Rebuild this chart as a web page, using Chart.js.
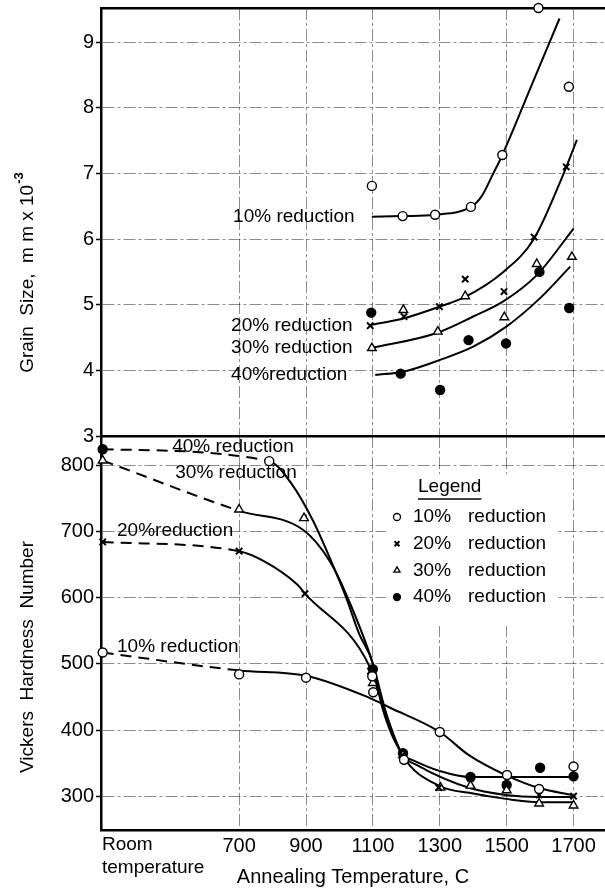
<!DOCTYPE html>
<html>
<head>
<meta charset="utf-8">
<script src="https://cdn.jsdelivr.net/npm/chart.js@4.4.1/dist/chart.umd.min.js"></script>
<style>
  html, body { margin: 0; padding: 0; background: #fff; }
  #wrap { position: relative; width: 605px; height: 895px; }
  #top { position: absolute; left: 0; top: 0; }
  #bottom { position: absolute; left: 0; top: 436px; }
</style>
</head>
<body>
<div id="wrap">
  <canvas id="top" width="605" height="445"></canvas>
  <canvas id="bottom" width="605" height="459"></canvas>
</div>
<script>
// annealing temperature axis (C) - room temperature sits at the broken left end
const ROOM_T = 292;
const X_MIN = 287, X_MAX = 1794;
const X_TICKS = [700, 900, 1100, 1300, 1500, 1700];

// upper panel: grain size, mm x 10^-3
const G_MIN = 3, G_MAX = 9.52;
const G_TICKS = [3, 4, 5, 6, 7, 8, 9];

const g10T = [1097, 1189, 1286, 1393, 1487, 1595, 1686];
const g10 = [6.81, 6.35, 6.37, 6.49, 7.28, 9.52, 8.32];
const g20T = [1092, 1193, 1299, 1376, 1492, 1582, 1678];
const g20 = [4.68, 4.82, 4.97, 5.39, 5.20, 6.03, 7.10];
const g30T = [1097, 1191, 1294, 1376, 1493, 1590, 1695];
const g30 = [4.34, 4.92, 4.59, 5.13, 4.81, 5.62, 5.73];
const g40T = [1095, 1183, 1301, 1386, 1498, 1598, 1687];
const g40 = [4.88, 3.95, 3.70, 4.46, 4.41, 5.50, 4.95];

// faired curves through the grain size points
const g10FitT = [1097, 1190, 1285, 1393, 1425, 1460, 1487, 1575, 1658];
const g10Fit = [6.34, 6.35, 6.37, 6.49, 6.65, 7.00, 7.28, 8.35, 9.36];
const g20FitT = [1092, 1191, 1299, 1376, 1490, 1580, 1660, 1710];
const g20Fit = [4.69, 4.79, 4.97, 5.12, 5.50, 5.99, 6.87, 7.51];
const g30FitT = [1097, 1291, 1400, 1490, 1590, 1700];
const g30Fit = [4.34, 4.57, 4.82, 5.05, 5.45, 6.16];
const g40FitT = [1107, 1191, 1301, 1400, 1500, 1600, 1690];
const g40Fit = [3.93, 3.98, 4.16, 4.36, 4.67, 5.10, 5.58];

// lower panel: Vickers hardness number
const H_MIN = 249, H_MAX = 844;
const H_TICKS = [300, 400, 500, 600, 700, 800];

const h10T = [292, 700, 900, 1098, 1101, 1193, 1300, 1501, 1597, 1700];
const h10 = [517, 484, 479, 481, 457, 355, 397, 332, 311, 345];
const h20T = [292, 700, 897, 1093, 1188, 1297, 1392, 1497, 1597, 1700];
const h20 = [684, 670, 606, 489, 362, 313, 327, 317, 302, 300];
const h30T = [292, 700, 894, 1100, 1190, 1302, 1392, 1500, 1597, 1700];
const h30 = [807, 733, 720, 471, 362, 313, 316, 309, 289, 286];
const h40T = [292, 790, 1100, 1190, 1392, 1500, 1600, 1700];
const h40 = [824, 806, 492, 365, 329, 317, 343, 330];
// the 790 C reading of the 40% series is printed as an open circle
const h40Open = [false, true, false, false, false, false, false, false];

const h10FitT = [292, 700, 900, 1088, 1150, 1300, 1387, 1497, 1600, 1695];
const h10Fit = [517, 490, 482, 449, 434, 397, 362, 332, 312, 302];
const h20FitT = [292, 700, 774, 873, 897, 1090, 1140, 1188, 1297, 1400, 1497, 1595, 1700];
const h20Fit = [684, 670, 655, 620, 606, 496, 420, 362, 316, 304, 296, 291, 291];
const h30FitT = [292, 700, 892, 971, 1020, 1100, 1140, 1190, 1232, 1392, 1497, 1595, 1700];
const h30Fit = [807, 731, 702, 655, 605, 500, 425, 362, 347, 312, 302, 299, 299];
const h40FitT = [292, 790, 858, 921, 971, 1020, 1059, 1100, 1128, 1190, 1217, 1300, 1392, 1700];
const h40Fit = [824, 806, 771, 716, 660, 600, 545, 500, 434, 362, 355, 338, 329, 329];

// curve labels (anchored at data coordinates, left end of the text)
const gLabelText = ['10% reduction', '20% reduction', '30% reduction', '40%reduction'];
const gLabelT = [682, 676, 676, 676];
const gLabelV = [6.34, 4.68, 4.34, 3.93];
const hLabelText = ['40% reduction', '30% reduction', '20%reduction', '10% reduction'];
const hLabelT = [500, 509, 335, 335];
const hLabelV = [827, 788, 701, 526];

const legendPct = ['10%', '20%', '30%', '40%'];

const FONT = "'Liberation Sans', Arial, sans-serif";
const GRID = 'rgba(0,0,0,0.45)';
const GRID_DASH = [12, 3, 3, 3];

// marker look per reduction
const MARK = [
  { pointStyle: 'circle', pointBackgroundColor: '#fff', pointRadius: 4.5 },
  { pointStyle: 'crossRot', pointBackgroundColor: '#000', pointRadius: 4.5, pointBorderWidth: 2 },
  { pointStyle: 'triangle', pointBackgroundColor: '#fff', pointRadius: 5 },
  { pointStyle: 'circle', pointBackgroundColor: '#000', pointRadius: 4.5 }
];

function pts(xs, ys) {
  return xs.map((x, i) => ({ x: x, y: ys[i] }));
}

function curveSet(label, xs, ys) {
  return {
    label: label,
    data: pts(xs, ys),
    showLine: true,
    borderColor: '#000',
    borderWidth: 2,
    pointRadius: 0,
    cubicInterpolationMode: 'monotone',
    fill: false,
    // the stretch from room temperature is dashed
    segment: { borderDash: c => c.p0.parsed.x <= ROOM_T ? [11, 7] : undefined },
    order: 2
  };
}

function markSet(label, xs, ys, k) {
  return Object.assign({
    label: label,
    data: pts(xs, ys),
    showLine: false,
    pointBorderColor: '#000',
    pointBorderWidth: 1.4,
    clip: 8,
    order: 1
  }, MARK[k]);
}

function xAxis(withLabels) {
  const ax = {
    type: 'linear',
    min: X_MIN,
    max: X_MAX,
    afterBuildTicks: s => { s.ticks = X_TICKS.map(v => ({ value: v })); },
    ticks: {
      display: withLabels,
      color: '#000',
      padding: 4,
      font: { family: FONT, size: 20 },
      callback: v => String(v)
    },
    grid: { color: GRID, lineWidth: 1, drawTicks: false },
    border: { color: '#000', width: 2.5, dash: GRID_DASH },
    afterFit: s => {
      s.height = withLabels ? 65 : 9;
      s.paddingLeft = 0;
      s.paddingRight = 0;
    }
  };
  if (withLabels) {
    ax.title = {
      display: true,
      text: 'Annealing Temperature, C',
      color: '#000',
      font: { family: FONT, size: 20 },
      padding: { top: 0, bottom: 6 }
    };
  }
  return ax;
}

function yAxis(min, max, ticks) {
  return {
    type: 'linear',
    min: min,
    max: max,
    afterBuildTicks: s => { s.ticks = ticks.map(v => ({ value: v })); },
    ticks: { color: '#000', padding: 2, font: { family: FONT, size: 20 } },
    grid: {
      color: c => (c.tick && c.tick.value === min) ? 'rgba(0,0,0,0)' : GRID,
      lineWidth: 1,
      drawTicks: true,
      tickLength: 5,
      tickColor: '#000',
      tickWidth: 1.5
    },
    border: { color: '#000', width: 2.5, dash: GRID_DASH },
    afterFit: s => {
      s.width = 101;
      s.paddingTop = 0;
      s.paddingBottom = 0;
    }
  };
}

// text written onto the plot at data coordinates
const curveLabels = {
  id: 'curveLabels',
  afterDatasetsDraw(chart, args, o) {
    const { ctx, scales } = chart;
    ctx.save();
    ctx.fillStyle = '#000';
    ctx.font = '19px ' + FONT;
    ctx.textAlign = 'left';
    ctx.textBaseline = 'middle';
    o.text.forEach((t, i) => {
      ctx.fillText(t, scales.x.getPixelForValue(o.at[i]), scales.y.getPixelForValue(o.val[i]));
    });
    ctx.restore();
  }
};

// rotated y title and the "Room temperature" tick
const frameText = {
  id: 'frameText',
  afterDraw(chart, args, o) {
    const ctx = chart.ctx;
    ctx.save();
    ctx.fillStyle = '#000';
    if (o.title) {
      ctx.save();
      ctx.translate(o.title.x, o.title.y);
      ctx.rotate(-Math.PI / 2);
      ctx.font = '19px ' + FONT;
      ctx.textBaseline = 'middle';
      const w = ctx.measureText(o.title.text).width;
      let sw = 0;
      if (o.title.sup) {
        ctx.font = '13px ' + FONT;
        sw = ctx.measureText(o.title.sup).width;
      }
      const x0 = -(w + sw) / 2;
      ctx.font = '19px ' + FONT;
      ctx.textAlign = 'left';
      ctx.fillText(o.title.text, x0, 0);
      if (o.title.sup) {
        ctx.font = 'bold 13px ' + FONT;
        ctx.fillText(o.title.sup, x0 + w + 1, -9);
      }
      ctx.restore();
    }
    if (o.room) {
      const x = chart.scales.x.getPixelForValue(X_MIN);
      const b = chart.chartArea.bottom;
      ctx.font = '19px ' + FONT;
      ctx.textAlign = 'left';
      ctx.textBaseline = 'middle';
      ctx.fillText('Room', x + 1, b + 15);
      ctx.fillText('temperature', x + 1, b + 38);
    }
    ctx.restore();
  }
};

// boxed legend inside the lower panel
const boxLegend = {
  id: 'boxLegend',
  beforeDatasetsDraw(chart, args, o) {
    const ctx = chart.ctx;
    const a = chart.chartArea;
    ctx.save();
    ctx.fillStyle = '#fff';
    ctx.fillRect(a.left + o.left, a.top + o.top, o.width, o.height);
    ctx.restore();
  },
  afterDatasetsDraw(chart, args, o) {
    const ctx = chart.ctx;
    const a = chart.chartArea;
    const x = a.left + o.left;
    const y = a.top + o.top;
    ctx.save();
    ctx.fillStyle = '#000';
    ctx.strokeStyle = '#000';
    ctx.font = '19px ' + FONT;
    ctx.textBaseline = 'middle';
    ctx.textAlign = 'left';
    ctx.fillText('Legend', x + 32, y + 13);
    const lw = ctx.measureText('Legend').width;
    ctx.lineWidth = 1.5;
    ctx.beginPath();
    ctx.moveTo(x + 32, y + 25);
    ctx.lineTo(x + 32 + lw, y + 25);
    ctx.stroke();
    legendPct.forEach((p, i) => {
      const ry = y + 43 + i * 26.7;
      const m = MARK[i];
      ctx.fillStyle = m.pointBackgroundColor;
      ctx.strokeStyle = '#000';
      ctx.lineWidth = m.pointBorderWidth || 1.3;
      const style = { pointStyle: m.pointStyle, radius: 3.5, borderWidth: ctx.lineWidth, rotation: 0 };
      if (Chart.helpers && Chart.helpers.drawPoint) {
        Chart.helpers.drawPoint(ctx, style, x + 11, ry);
      }
      ctx.fillStyle = '#000';
      ctx.fillText(p, x + 27, ry);
      ctx.fillText('reduction', x + 82, ry);
    });
    ctx.restore();
  }
};

Chart.register(curveLabels, frameText, boxLegend);

const common = {
  responsive: false,
  animation: false,
  events: [],
  layout: { padding: 0, autoPadding: false }
};

const h40Marks = markSet('40% reduction', h40T, h40, 3);
h40Marks.pointBackgroundColor = h40Open.map(o => o ? '#fff' : '#000');

new Chart(document.getElementById('top'), {
  type: 'scatter',
  data: {
    datasets: [
      curveSet('10% fit', g10FitT, g10Fit),
      curveSet('20% fit', g20FitT, g20Fit),
      curveSet('30% fit', g30FitT, g30Fit),
      curveSet('40% fit', g40FitT, g40Fit),
      markSet('10% reduction', g10T, g10, 0),
      markSet('20% reduction', g20T, g20, 1),
      markSet('30% reduction', g30T, g30, 2),
      markSet('40% reduction', g40T, g40, 3)
    ]
  },
  options: Object.assign({}, common, {
    scales: {
      x: xAxis(false),
      x2: {
        type: 'linear',
        position: 'top',
        min: X_MIN,
        max: X_MAX,
        ticks: { display: false },
        grid: { display: false, drawTicks: false },
        border: { display: true, color: '#000', width: 2.5 },
        afterFit: s => { s.height = 8; s.paddingLeft = 0; s.paddingRight = 0; }
      },
      y: yAxis(G_MIN, G_MAX, G_TICKS)
    },
    plugins: {
      legend: { display: false },
      tooltip: { enabled: false },
      curveLabels: { text: gLabelText, at: gLabelT, val: gLabelV },
      frameText: { title: { text: 'Grain  Size,  m m x 10', sup: '-3', x: 28, y: 273 } },
      boxLegend: false
    }
  })
});

new Chart(document.getElementById('bottom'), {
  type: 'scatter',
  data: {
    datasets: [
      curveSet('10% fit', h10FitT, h10Fit),
      curveSet('20% fit', h20FitT, h20Fit),
      curveSet('30% fit', h30FitT, h30Fit),
      curveSet('40% fit', h40FitT, h40Fit),
      markSet('10% reduction', h10T, h10, 0),
      markSet('20% reduction', h20T, h20, 1),
      markSet('30% reduction', h30T, h30, 2),
      h40Marks
    ]
  },
  options: Object.assign({}, common, {
    scales: {
      x: xAxis(true),
      y: yAxis(H_MIN, H_MAX, H_TICKS)
    },
    plugins: {
      legend: { display: false },
      tooltip: { enabled: false },
      curveLabels: { text: hLabelText, at: hLabelT, val: hLabelV },
      frameText: { title: { text: 'Vickers  Hardness  Number', x: 28, y: 221 }, room: true },
      boxLegend: { left: 285, top: 38, width: 170, height: 152 }
    }
  })
});
</script>
</body>
</html>
